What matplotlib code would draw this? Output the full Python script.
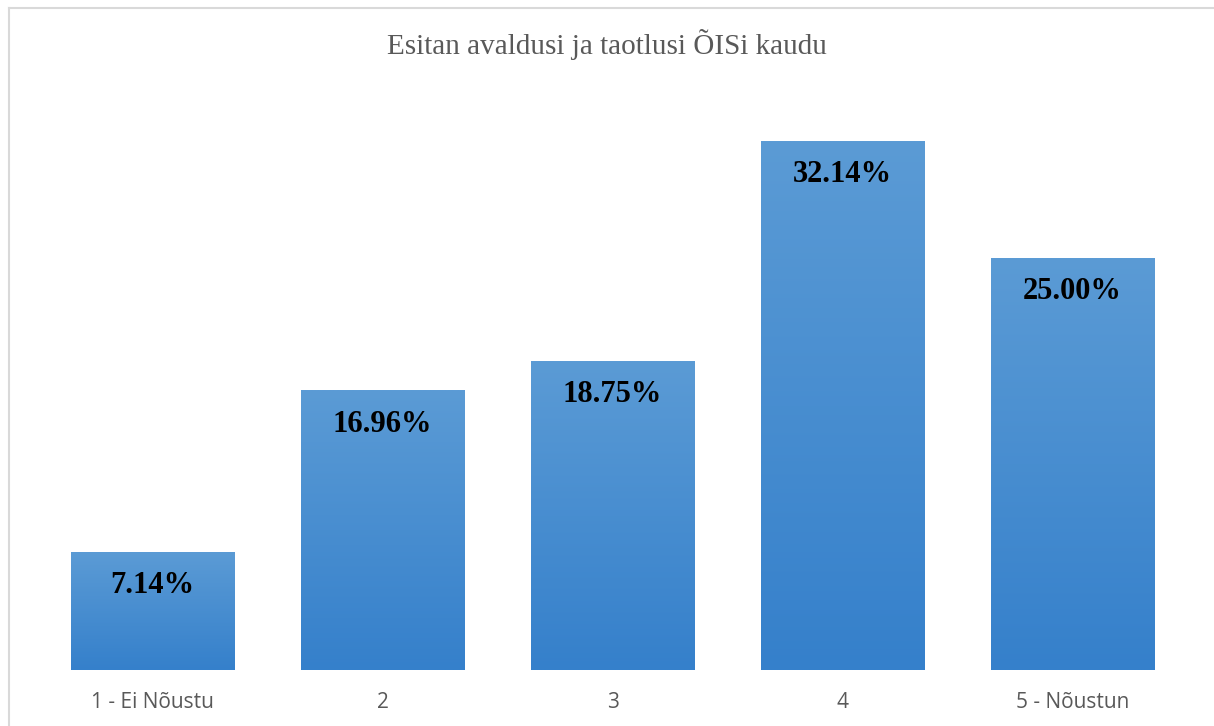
import numpy as np
import matplotlib
matplotlib.use('Agg')
import matplotlib.pyplot as plt
from matplotlib.lines import Line2D
from matplotlib.colors import LinearSegmentedColormap

# data
categories = ['1 - Ei Nõustu', '2', '3', '4', '5 - Nõustun']
values = [7.14, 16.96, 18.75, 32.14, 25.00]
labels = ['7.14%', '16.96%', '18.75%', '32.14%', '25.00%']
title = 'Esitan avaldusi ja taotlusi ÕISi kaudu'

W, H = 1214, 726
fig = plt.figure(figsize=(W / 100, H / 100), dpi=100)

# axes placed so the baseline sits at y=670 px and 35% at y=94 px
ax = fig.add_axes([37.5 / W, 1 - 670 / H, 1150 / W, 576 / H])
ax.set_xlim(-0.5, len(categories) - 0.5)
ax.set_ylim(0, 35)

# blue vertical gradient for each bar (light top, darker bottom)
cmap = LinearSegmentedColormap.from_list('blue', ['#3580cb', '#5b9bd5'])
grad = np.linspace(0, 1, 256).reshape(-1, 1)
barWidth = 0.713

x = np.arange(len(categories))
bars = ax.bar(x, values, width=barWidth, color='none', edgecolor='none')
for b in bars:
    x0, y0 = b.get_x(), b.get_y()
    w, h = b.get_width(), b.get_height()
    ax.imshow(grad, cmap=cmap, aspect='auto', origin='lower',
              extent=[x0, x0 + w, y0, y0 + h], zorder=1)

for i in range(len(values)):
    ax.annotate(labels[i], (x[i], values[i]), xytext=(0, -24),
                textcoords='offset points', ha='center', va='center',
                fontsize=22, fontweight='bold', family='Liberation Serif',
                color='black', zorder=3)

ax.set_xticks(x)
ax.set_xticklabels(categories, fontsize=15, color='#595959', family='Open Sans')
ax.tick_params(axis='x', length=0, pad=16)
ax.set_yticks([])
for s in ax.spines.values():
    s.set_visible(False)

fig.text(0.5, 1 - 45 / H, title, ha='center', va='center',
         fontsize=21, color='#595959', family='Liberation Serif')

# light border at top and left
fig.add_artist(Line2D([8.5 / W, 8.5 / W], [0, 1 - 7.5 / H], color='#d9d9d9', lw=1.5))
fig.add_artist(Line2D([8.5 / W, 1], [1 - 7.5 / H, 1 - 7.5 / H], color='#d9d9d9', lw=1.5))

fig.savefig('out.png', dpi=100)
